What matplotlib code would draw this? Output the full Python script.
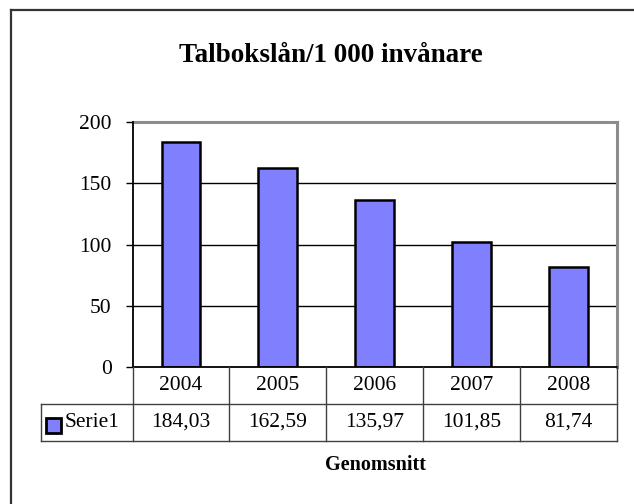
'''Talbokslån per 1 000 invånare, Excel style column chart with data table'''

import matplotlib
matplotlib.use('Agg')
import matplotlib.pyplot as plt
from matplotlib.patches import Rectangle
from matplotlib.lines import Line2D

years = ['2004', '2005', '2006', '2007', '2008']
values = [184.03, 162.59, 135.97, 101.85, 81.74]
value_labels = ['184,03', '162,59', '135,97', '101,85', '81,74']
series_name = 'Serie1'
title = 'Talbokslån/1 000 invånare'
xlabel = 'Genomsnitt'
yticks = [0, 50, 100, 150, 200]

W, H = 634, 504
bar_color = '#8080FF'
fs = 15.5

plt.rcParams['font.family'] = ['Liberation Serif', 'DejaVu Serif']

def fx(x):
    return x / W

def fy(y):
    return 1 - y / H

fig = plt.figure(figsize=(W / 100, H / 100), dpi=100)

# outer chart border (only top and left visible)
fig.add_artist(Line2D([fx(11), fx(W + 5)], [fy(10), fy(10)], color='#333333', lw=1.6))
fig.add_artist(Line2D([fx(11), fx(11)], [fy(10), fy(H + 5)], color='#333333', lw=1.6))

left, right, top, bottom = 132.5, 617, 122, 367
ax = fig.add_axes([fx(left), fy(bottom), fx(right - left), (bottom - top) / H])
x = list(range(len(years)))
ax.bar(x, values, width=0.4, color=bar_color, edgecolor='black', linewidth=1.8, zorder=3)
ax.set_xlim(-0.5, len(years) - 0.5)
ax.set_ylim(0, 200)
ax.set_yticks(yticks)
ax.set_yticklabels([str(t) for t in yticks], fontsize=fs)
ax.set_xticks([])
ax.tick_params(axis='y', direction='out', length=5, width=1, pad=10)
for v in yticks[1:-1]:
    ax.axhline(v, color='black', lw=1, zorder=1)
for s in ('top', 'right'):
    ax.spines[s].set_color('#8c8c8c')
    ax.spines[s].set_linewidth(2.2)
for s in ('left', 'bottom'):
    ax.spines[s].set_color('black')
    ax.spines[s].set_linewidth(1.3)
    ax.spines[s].set_zorder(4)

# data table below the plot
tleft, tbottom = 41, 441
col_w = (right - left) / len(years)
row_h = (tbottom - bottom) / 2
lead = (left - tleft) / col_w
x0 = -0.5 - lead
tab = fig.add_axes([fx(tleft), fy(tbottom), fx(right - tleft), (tbottom - bottom) / H])
tab.set_xlim(x0, len(years) - 0.5)
tab.set_ylim(0, 2)
tab.axis('off')
lc = '#404040'
tab.plot([x0, len(years) - 0.5], [1, 1], color=lc, lw=1, clip_on=False)
tab.plot([x0, len(years) - 0.5], [0, 0], color=lc, lw=1, clip_on=False)
for i in range(len(years) + 1):
    tab.plot([i - 0.5, i - 0.5], [0, 2], color=lc, lw=1, clip_on=False)
tab.plot([x0, x0], [0, 1], color=lc, lw=1, clip_on=False)
for i, (yr, lab) in enumerate(zip(years, value_labels)):
    tab.text(i, 1.5, yr, ha='center', va='center', fontsize=fs)
    tab.text(i, 0.5, lab, ha='center', va='center', fontsize=fs)
tab.add_patch(Rectangle((x0 + 4.5 / col_w, 0.5 - 10 / row_h), 15 / col_w, 15 / row_h,
                        facecolor=bar_color, edgecolor='black', lw=2, clip_on=False))
tab.text(x0 + 24 / col_w, 0.5, series_name, ha='left', va='center', fontsize=fs)

fig.text(fx(375), fy(465), xlabel, ha='center', va='center', fontsize=14.5, fontweight='bold')
fig.text(fx(331), fy(55), title, ha='center', va='center', fontsize=19.5, fontweight='bold')

fig.savefig('out.png', dpi=100)
